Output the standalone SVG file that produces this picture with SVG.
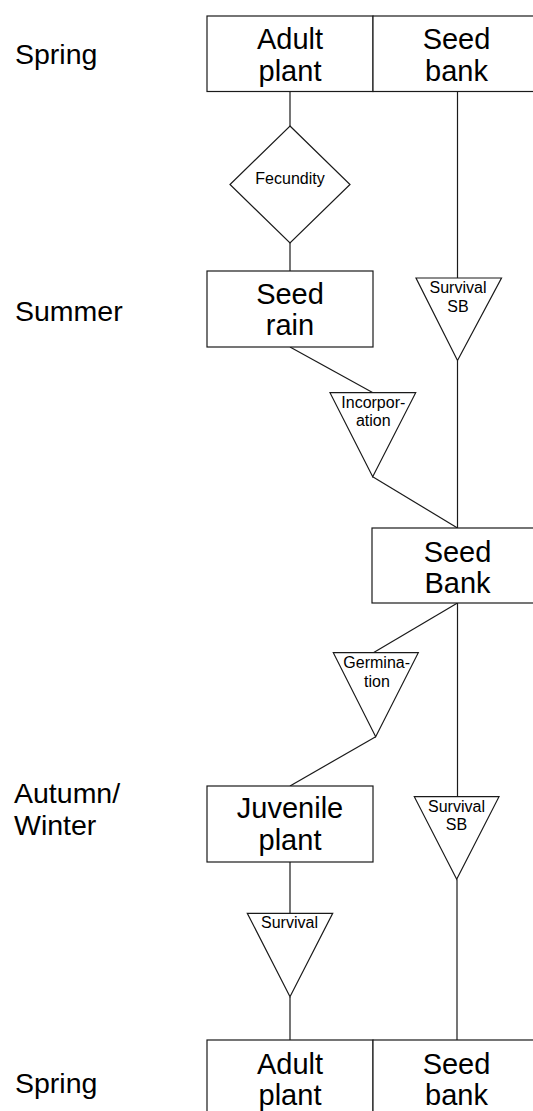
<svg xmlns="http://www.w3.org/2000/svg" width="533" height="1111" viewBox="0 0 533 1111">
<style>
.box{fill:#fff;stroke:#1a1a1a;stroke-width:1.2}
.ln{stroke:#1a1a1a;stroke-width:1.2;fill:none}
.big{font-family:"Liberation Sans",Arial,sans-serif;font-size:29px;fill:#000;text-anchor:middle}
.sm{font-family:"Liberation Sans",Arial,sans-serif;font-size:16px;fill:#000;text-anchor:middle}
.season{font-family:"Liberation Sans",Arial,sans-serif;font-size:28.5px;fill:#000}
</style>
<rect width="533" height="1111" fill="#fff"/>
<g id="connectors">
<line class="ln" x1="290" y1="91.5" x2="290" y2="126"/>
<line class="ln" x1="290" y1="243" x2="290" y2="271"/>
<line class="ln" x1="457.5" y1="91.5" x2="457.5" y2="278"/>
<line class="ln" x1="457.5" y1="360.5" x2="457.5" y2="528"/>
<line class="ln" x1="290" y1="347" x2="373" y2="392.7"/>
<line class="ln" x1="372.7" y1="476.7" x2="457.5" y2="528"/>
<line class="ln" x1="457.5" y1="603" x2="373.3" y2="652.7"/>
<line class="ln" x1="457.5" y1="603" x2="457.5" y2="796.7"/>
<line class="ln" x1="375.7" y1="736.7" x2="290" y2="786"/>
<line class="ln" x1="457" y1="879.3" x2="457" y2="1040"/>
<line class="ln" x1="290" y1="862" x2="290" y2="913.3"/>
<line class="ln" x1="290" y1="996.7" x2="290" y2="1040"/>
</g>
<g id="season-labels">
<text class="season" x="15" y="64">Spring</text>
<text class="season" x="15" y="321">Summer</text>
<text class="season" x="14" y="803">Autumn/</text>
<text class="season" x="14" y="835">Winter</text>
<text class="season" x="15" y="1093">Spring</text>
</g>
<g id="adult-plant-top">
<rect class="box" x="207" y="16" width="166" height="75.5"/>
<text class="big" x="290" y="49">Adult</text>
<text class="big" x="290" y="80.5">plant</text>
</g>
<g id="seed-bank-top">
<rect class="box" x="373" y="16" width="170" height="75.5"/>
<text class="big" x="456.5" y="49">Seed</text>
<text class="big" x="456.5" y="80.5">bank</text>
</g>
<g id="fecundity">
<polygon class="box" points="290,126 350,184.5 290,243 230,184.5"/>
<text class="sm" x="290" y="184">Fecundity</text>
</g>
<g id="seed-rain">
<rect class="box" x="207" y="271" width="166" height="76"/>
<text class="big" x="290" y="304">Seed</text>
<text class="big" x="290" y="335">rain</text>
</g>
<g id="survival-sb-1">
<polygon class="box" points="416,278 501.5,278 457.5,360.5"/>
<text class="sm" x="458" y="293">Survival</text>
<text class="sm" x="458" y="311.5">SB</text>
</g>
<g id="incorporation">
<polygon class="box" points="330,392.7 415.7,392.7 372.7,476.7"/>
<text class="sm" x="373.3" y="407.5">Incorpor-</text>
<text class="sm" x="373.3" y="425.5">ation</text>
</g>
<g id="seed-bank-mid">
<rect class="box" x="372" y="528" width="170" height="75"/>
<text class="big" x="457.5" y="561.5">Seed</text>
<text class="big" x="457.5" y="593">Bank</text>
</g>
<g id="germination">
<polygon class="box" points="333.3,652.7 418.3,652.7 375.7,736.7"/>
<text class="sm" x="376.7" y="668.3">Germina-</text>
<text class="sm" x="377" y="686.5">tion</text>
</g>
<g id="juvenile-plant">
<rect class="box" x="207" y="786" width="166" height="76"/>
<text class="big" x="290" y="818.3">Juvenile</text>
<text class="big" x="290" y="850">plant</text>
</g>
<g id="survival-sb-2">
<polygon class="box" points="414.3,796.7 499,796.7 456.7,879.3"/>
<text class="sm" x="456.5" y="812.3">Survival</text>
<text class="sm" x="456.5" y="830">SB</text>
</g>
<g id="survival">
<polygon class="box" points="247.3,913.3 332.7,913.3 290,996.7"/>
<text class="sm" x="289.5" y="928.3">Survival</text>
</g>
<g id="adult-plant-bottom">
<rect class="box" x="207" y="1040" width="166" height="80"/>
<text class="big" x="290" y="1074">Adult</text>
<text class="big" x="290" y="1104.5">plant</text>
</g>
<g id="seed-bank-bottom">
<rect class="box" x="373" y="1040" width="170" height="80"/>
<text class="big" x="456.5" y="1074">Seed</text>
<text class="big" x="456.5" y="1104.5">bank</text>
</g>
</svg>
